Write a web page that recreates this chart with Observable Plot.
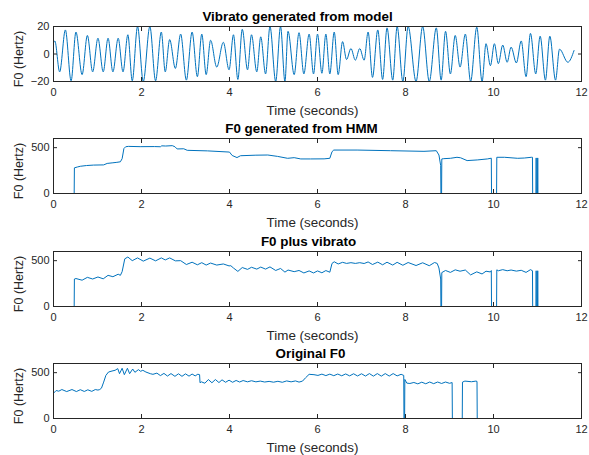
<!DOCTYPE html>
<html><head><meta charset="utf-8">
<script src="https://cdn.jsdelivr.net/npm/d3@7"></script>
<script src="https://cdn.jsdelivr.net/npm/@observablehq/plot@0.6"></script>
<style>
html,body{margin:0;padding:0;background:#fff;}
#fig{position:relative;width:589px;height:455px;background:#fff;overflow:hidden;}
#fig svg{position:absolute;left:0;overflow:visible;background:transparent;}
</style></head><body><div id="fig"></div>
<script>
// ---- texts / ticks ----
const panelTitles = ["Vibrato generated from model", "F0 generated from HMM", "F0 plus vibrato", "Original F0"];
const xLabel = "Time (seconds)";
const yLabel = "F0 (Hertz)";
const xTicks = [0, 2, 4, 6, 8, 10, 12];
const vibTicks = [-20, 0, 20];
const f0Ticks = [0, 500];

// ---- panel 1: vibrato (time s, Hz) — extrema ----
const vibrato = [
[0.00,8],[0.03,9.5],[0.14,-13],[0.27,17.5],[0.40,-19.5],[0.51,16],[0.65,-15],[0.77,13.5],[0.89,-13],
[1.01,11.5],[1.13,-13],[1.24,11.5],[1.35,-13],[1.47,11.5],[1.58,-13],[1.69,14],[1.79,-19.5],[1.91,20],
[2.04,-20],[2.19,20],[2.32,-19.5],[2.45,16],[2.54,-13],[2.64,10.5],[2.77,-10.5],[2.89,14.5],[3.02,-19],
[3.15,16],[3.27,-16.5],[3.37,14.5],[3.47,-15],[3.57,10],[3.71,-9.5],[3.86,8.5],[3.99,-11.5],[4.09,14],
[4.19,-18.5],[4.29,18],[4.41,-11.5],[4.50,14],[4.62,-13],[4.71,12.5],[4.82,-14.5],[4.92,20],[5.05,-20],
[5.16,20],[5.26,-20],[5.33,16.5],[5.47,-15],[5.58,15.5],[5.69,-14.5],[5.81,14.5],[5.91,-14.5],[6.00,14.5],
[6.10,-14],[6.19,14.5],[6.28,-14.5],[6.38,16],[6.47,-15],[6.57,9],[6.66,-4],[6.76,4],[6.86,-4.5],[6.96,4],
[7.06,-4.5],[7.15,16],[7.25,-17],[7.37,17.5],[7.48,-18.5],[7.58,19],[7.71,-19],[7.81,20],[7.94,-20],
[8.06,20],[8.24,-20],[8.39,20],[8.54,-20],[8.70,19],[8.81,-19],[8.91,16.5],[9.02,-14.5],[9.13,13.5],
[9.24,-9.5],[9.36,14.5],[9.48,-20],[9.62,19.5],[9.74,-20],[9.83,7.5],[9.93,-8.5],[10.02,7.5],[10.11,-7],
[10.21,6.5],[10.31,-6],[10.40,5],[10.52,-6.5],[10.63,9.5],[10.74,-16.5],[10.84,15],[10.96,-14.5],
[11.06,13],[11.18,-19],[11.28,13],[11.41,-19],[11.50,3.5],[11.69,-6],[11.83,2.5]
];

// ---- panel 2: F0 generated from HMM ----
const hmmF0 = [
[0,0],[0.47,0],[0.475,280],[0.55,290],[0.61,297],[0.75,305],[0.91,310],[1.14,312],[1.22,328],[1.35,335],
[1.44,340],[1.52,346],[1.56,380],[1.60,490],[1.64,510],[1.70,514],[1.97,511],[2.30,512],[2.43,510],[2.46,520],
[2.55,518],[2.70,522],[2.76,510],[2.81,486],[2.96,488],[3.04,471],[3.50,465],[4.00,452],[4.06,415],[4.17,392],
[4.25,412],[4.60,418],[4.87,420],[5.09,405],[5.32,384],[5.47,391],[5.62,377],[5.84,377],[6.15,378],[6.28,384],
[6.33,456],[6.37,474],[6.90,474],[7.66,467],[8.42,460],[8.70,467],[8.76,420],[8.80,304],[8.805,0],[8.82,0],
[8.825,377],[8.87,380],[9.02,384],[9.17,395],[9.25,390],[9.40,359],[9.63,366],[9.86,377],[9.95,385],[9.955,0],
[10.07,0],[10.075,395],[10.25,395],[10.55,384],[10.70,387],[10.86,395],[10.885,395],[10.89,0],[10.965,0],
[10.97,388],[10.975,0],[11.0,0],[11.005,388],[11.01,0],[11.82,0]
];

// ---- panel 3: F0 plus vibrato ----
const plusF0 = [
[0,0],[0.47,0],[0.475,300],[0.51,305],[0.65,287],[0.77,318],[0.89,300],[1.01,322],[1.13,302],[1.24,340],
[1.35,325],[1.47,352],[1.52,340],[1.56,380],[1.62,520],[1.69,540],[1.79,500],[1.91,530],[2.04,495],[2.19,528],
[2.32,498],[2.45,530],[2.54,508],[2.64,530],[2.77,498],[2.89,500],[3.02,458],[3.15,483],[3.27,455],[3.37,478],
[3.47,452],[3.57,474],[3.71,452],[3.86,464],[3.99,443],[4.03,445],[4.09,420],[4.19,383],[4.29,425],[4.41,405],
[4.50,428],[4.62,408],[4.71,430],[4.82,408],[4.92,432],[5.05,393],[5.16,415],[5.26,375],[5.33,398],[5.47,380],
[5.58,393],[5.69,366],[5.81,388],[5.91,366],[6.00,388],[6.10,368],[6.19,392],[6.28,374],[6.33,470],[6.38,488],
[6.47,464],[6.57,482],[6.66,470],[6.76,478],[6.86,470],[6.96,478],[7.06,469],[7.15,486],[7.25,458],[7.37,484],
[7.48,455],[7.58,483],[7.71,452],[7.81,482],[7.94,450],[8.06,480],[8.24,447],[8.39,477],[8.54,445],[8.66,480],
[8.72,470],[8.76,420],[8.80,300],[8.805,0],[8.82,0],[8.825,370],[8.91,393],[9.02,372],[9.13,400],[9.24,385],
[9.36,398],[9.48,345],[9.62,378],[9.74,355],[9.83,385],[9.93,377],[9.95,392],[9.955,0],[10.07,0],[10.075,400],
[10.11,390],[10.21,402],[10.31,390],[10.40,398],[10.52,386],[10.63,395],[10.74,372],[10.84,402],[10.886,390],
[10.89,0],[10.965,0],[10.97,390],[10.975,0],[11.0,0],[11.005,390],[11.01,0],[11.82,0]
];

// ---- panel 4: original F0 ----
const origF0 = [
[0.00,276],[0.06,305],[0.12,298],[0.19,316],[0.30,294],[0.42,316],[0.52,294],[0.61,314],[0.70,295],[0.78,313],
[0.87,296],[0.95,316],[1.01,310],[1.05,316],[1.09,331],[1.14,397],[1.19,470],[1.25,507],[1.33,518],[1.40,526],
[1.46,544],[1.50,489],[1.56,548],[1.61,478],[1.68,548],[1.73,489],[1.80,540],[1.85,504],[1.93,533],[1.98,515],
[2.03,526],[2.10,507],[2.20,489],[2.26,482],[2.35,495],[2.43,468],[2.51,492],[2.59,463],[2.67,490],[2.76,460],
[2.84,488],[2.92,460],[3.00,487],[3.08,462],[3.15,485],[3.22,465],[3.28,483],[3.32,478],[3.33,390],[3.36,400],
[3.44,385],[3.52,425],[3.60,390],[3.68,425],[3.76,392],[3.83,422],[3.91,395],[3.99,418],[4.07,395],[4.15,415],
[4.23,398],[4.31,414],[4.41,400],[4.50,412],[4.60,400],[4.70,408],[4.80,398],[4.90,405],[5.00,396],[5.10,406],
[5.20,395],[5.30,410],[5.40,400],[5.50,410],[5.58,397],[5.66,408],[5.73,445],[5.81,482],[5.92,478],[6.01,470],
[6.10,484],[6.19,468],[6.28,484],[6.37,467],[6.46,485],[6.55,466],[6.64,486],[6.73,465],[6.82,488],[6.91,464],
[7.00,488],[7.09,463],[7.18,490],[7.27,462],[7.36,490],[7.45,462],[7.54,490],[7.63,463],[7.72,490],[7.81,465],
[7.90,482],[7.96,470],[7.965,0],[7.98,0],[7.985,426],[8.03,386],[8.10,382],[8.19,393],[8.28,378],[8.37,396],
[8.46,379],[8.55,398],[8.64,380],[8.73,398],[8.82,382],[8.91,398],[9.00,384],[9.06,392],[9.065,0],[9.29,0],
[9.295,397],[9.35,408],[9.50,401],[9.60,408],[9.625,405],[9.63,0],[10.89,0]
];

// ---- drawing ----
const FONT = "'Liberation Sans', Arial, Helvetica, sans-serif";
const AX = "#262626";
const LINE = "#0072BD";
const fig = document.getElementById("fig");

const panels = [
  {top: 26, title: panelTitles[0], titleDx: -20, data: vibrato, yDomain: [-20, 20], yTicks: vibTicks, curve: "monotone-x"},
  {top: 138, title: panelTitles[1], titleDx: -16, data: hmmF0, yDomain: [0, 600], yTicks: f0Ticks, curve: "linear"},
  {top: 251, title: panelTitles[2], titleDx: -9, data: plusF0, yDomain: [0, 600], yTicks: f0Ticks, curve: "linear"},
  {top: 363, title: panelTitles[3], titleDx: -7, data: origF0, yDomain: [0, 600], yTicks: f0Ticks, curve: "linear"}
];

for (const p of panels) {
  const mt = 26, h = 55, mb = 40;
  const svg = Plot.plot({
    width: 589, height: mt + h + mb,
    marginTop: mt, marginBottom: mb, marginLeft: 53, marginRight: 8,
    style: {fontFamily: FONT, fontSize: "11px", color: AX, background: "transparent", overflow: "visible"},
    x: {domain: [0, 12]},
    y: {domain: p.yDomain},
    marks: [
      Plot.line(p.data, {x: d => d[0], y: d => d[1], stroke: LINE, strokeWidth: 1, curve: p.curve, clip: true}),
      Plot.frame({stroke: AX, strokeWidth: 1}),
      // tick labels
      Plot.axisX({anchor: "bottom", ticks: xTicks, tickSize: 0, tickPadding: 7, stroke: "none", fill: AX, label: null}),
      Plot.axisY({anchor: "left", ticks: p.yTicks, tickSize: 0, tickPadding: 4, stroke: "none", fill: AX, label: null}),
      // inward ticks on all four sides
      Plot.axisX({anchor: "bottom", ticks: xTicks, tickSize: 4, dy: -4, stroke: AX, fill: "none", label: null}),
      Plot.axisX({anchor: "top", ticks: xTicks, tickSize: 4, dy: 4, stroke: AX, fill: "none", label: null}),
      Plot.axisY({anchor: "left", ticks: p.yTicks, tickSize: 4, dx: 4, stroke: AX, fill: "none", label: null}),
      Plot.axisY({anchor: "right", ticks: p.yTicks, tickSize: 4, dx: -4, stroke: AX, fill: "none", label: null}),
      // title and axis labels
      Plot.text([p.title], {text: d => d, frameAnchor: "top", dx: p.titleDx, dy: -10, lineAnchor: "middle", fontWeight: "bold", fontSize: 13.4, fill: "#000"}),
      Plot.text([xLabel], {text: d => d, frameAnchor: "bottom", dx: -5, dy: 29.5, lineAnchor: "middle", fontSize: 13.4, fill: AX}),
      Plot.text([yLabel], {text: d => d, frameAnchor: "left", dx: -35, dy: 5, rotate: -90, lineAnchor: "middle", textAnchor: "middle", fontSize: 12.5, fill: AX})
    ]
  });
  svg.style.top = (p.top - mt) + "px";
  fig.appendChild(svg);
}
</script>
</body></html>
